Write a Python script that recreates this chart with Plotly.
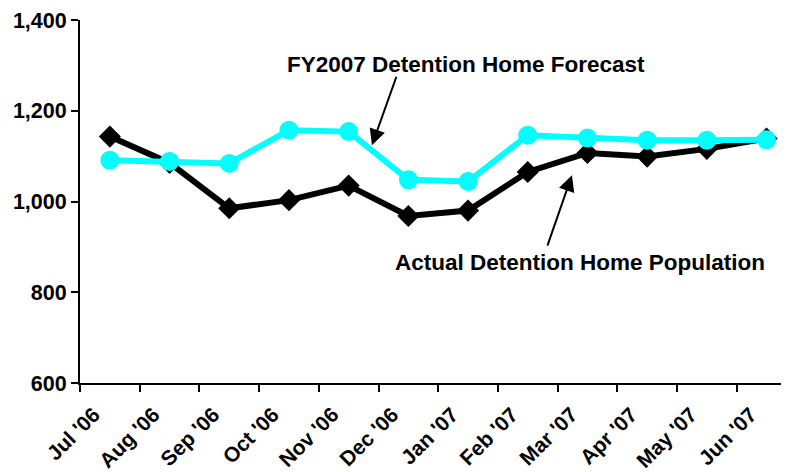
import plotly.graph_objects as go

months = ["Jul '06", "Aug '06", "Sep '06", "Oct '06", "Nov '06", "Dec '06",
          "Jan '07", "Feb '07", "Mar '07", "Apr '07", "May '07", "Jun '07"]
actual = [1143, 1085, 985, 1003, 1035, 968, 980, 1065, 1107, 1099, 1116, 1139]
forecast = [1091, 1088, 1084, 1157, 1154, 1048, 1044, 1146, 1140, 1135, 1135, 1136]
y_ticks = [600, 800, 1000, 1200, 1400]

FONT = "Liberation Sans, Arial, sans-serif"

fig = go.Figure()
fig.add_trace(go.Scatter(
    x=months, y=actual, mode="lines+markers", name="Actual",
    line=dict(color="black", width=6),
    marker=dict(symbol="diamond", size=17, color="black"),
))
fig.add_trace(go.Scatter(
    x=months, y=forecast, mode="lines+markers", name="Forecast",
    line=dict(color="#00FFFF", width=6),
    marker=dict(symbol="circle", size=19, color="#00FFFF"),
))

fig.add_annotation(x=5.97, y=1303, xref="x", yref="y",
                   text="FY2007 Detention Home Forecast", showarrow=False,
                   font=dict(family=FONT, size=22.5, color="black", weight="bold"))
fig.add_annotation(x=4.39, y=1124, xref="x", yref="y", text="",
                   showarrow=True, ax=25, ay=-70, arrowhead=2, arrowsize=1.6,
                   arrowwidth=2, arrowcolor="black")
fig.add_annotation(x=7.88, y=866, xref="x", yref="y",
                   text="Actual Detention Home Population", showarrow=False,
                   font=dict(family=FONT, size=22.5, color="black", weight="bold"))
fig.add_annotation(x=7.74, y=1058, xref="x", yref="y", text="",
                   showarrow=True, ax=-25, ay=72, arrowhead=2, arrowsize=1.6,
                   arrowwidth=2, arrowcolor="black")

# page body has an 8px margin, so the figure is offset by 8px
fig.update_layout(
    width=781, height=464,
    margin=dict(l=72, r=0, t=12, b=89),
    paper_bgcolor="white", plot_bgcolor="white",
    showlegend=False,
    font=dict(family=FONT, size=21, color="black", weight="bold"),
)
fig.update_xaxes(
    type="category", range=[-0.5, 11.376], tickson="boundaries",
    ticks="outside", ticklen=7, tickwidth=2, tickcolor="black",
    showline=True, linecolor="black", linewidth=2, showgrid=False,
    tickangle=-45, ticklabelshift=-16, ticklabelstandoff=9,
    tickfont=dict(family=FONT, size=21, color="black", weight="bold"),
)
fig.update_yaxes(
    range=[600, 1400], tickvals=y_ticks, tickformat=",",
    ticks="outside", ticklen=7, tickwidth=2, tickcolor="black",
    showline=True, linecolor="black", linewidth=2, showgrid=False, zeroline=False,
    tickfont=dict(family=FONT, size=21.5, color="black", weight="bold"),
)

fig.write_html("out.html")
